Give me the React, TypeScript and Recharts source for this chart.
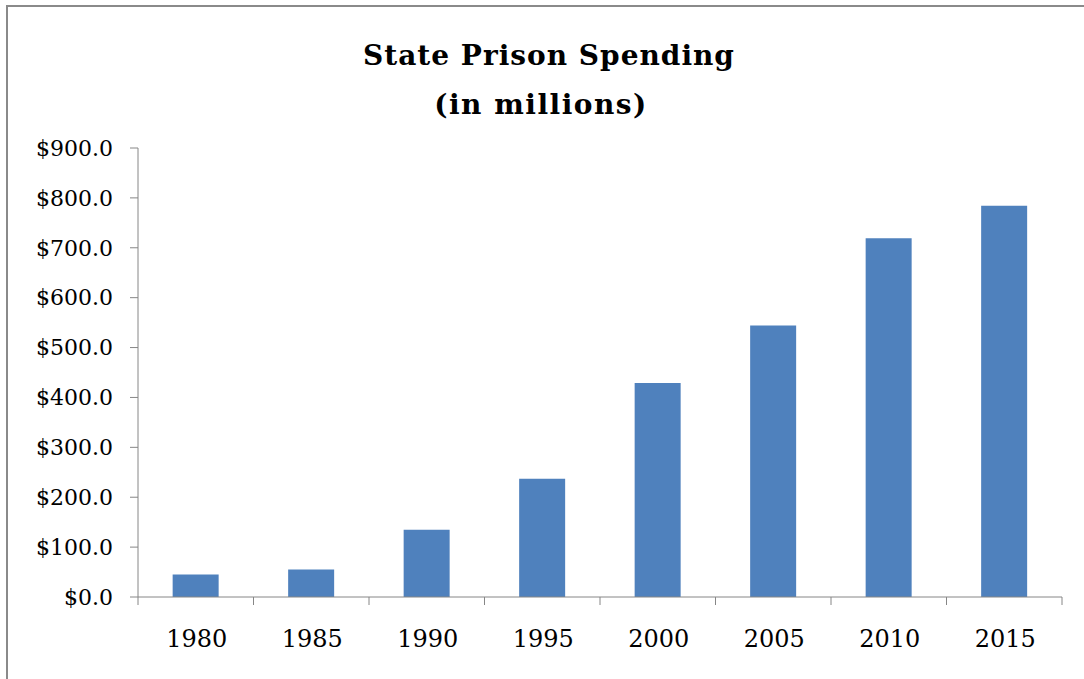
import { BarChart, Bar, XAxis, YAxis } from 'recharts';

const years = ['1980', '1985', '1990', '1995', '2000', '2005', '2010', '2015'];
const spending = [45, 55, 135, 237, 429, 544, 719, 784];
const yTicks = [0, 100, 200, 300, 400, 500, 600, 700, 800, 900];
const titleLines = ['State Prison Spending', '(in millions)'];

const data = years.map((year, i) => ({ year, spending: spending[i] }));

const AXIS = '#868686';
const FONT = "'DejaVu Serif', 'Liberation Serif', serif";

// category label plus Excel-style tick marks on the category boundaries
function YearTick(props: any) {
  const { x, y, payload, index, visibleTicksCount } = props;
  const half = payload.offset ?? 0;
  const last = index === visibleTicksCount - 1;
  return (
    <g>
      <line x1={x - half} x2={x - half} y1={y} y2={y + 8} stroke={AXIS} />
      {last && <line x1={x + half} x2={x + half} y1={y} y2={y + 8} stroke={AXIS} />}
      <text x={x + 1} y={y + 50} textAnchor="middle" fontFamily={FONT} fontSize={24} fill="#000">
        {payload.value}
      </text>
    </g>
  );
}

export default function App() {
  return (
    <div style={{ position: 'absolute', left: 0, top: 0, width: 1084, height: 679, background: '#fff', overflow: 'hidden' }}>
      <div
        style={{
          position: 'absolute',
          left: 6,
          top: 5,
          width: 1100,
          height: 700,
          borderLeft: '2px solid #8a8a8a',
          borderTop: '2px solid #8a8a8a',
        }}
      />
      <svg width={1084} height={140} style={{ position: 'absolute', left: 0, top: 0 }}>
        <text x={549} y={65} textAnchor="middle" fontFamily={FONT} fontWeight="bold" fontSize={28} letterSpacing={1} fill="#000">
          {titleLines[0]}
        </text>
        <text x={541} y={114} textAnchor="middle" fontFamily={FONT} fontWeight="bold" fontSize={28} letterSpacing={1.5} fill="#000">
          {titleLines[1]}
        </text>
      </svg>
      <div style={{ position: 'absolute', left: 0, top: 0 }}>
        <BarChart
          width={1084}
          height={679}
          data={data}
          margin={{ top: 148, right: 22, bottom: 81, left: 0 }}
          barCategoryGap="30%"
        >
          <XAxis
            dataKey="year"
            axisLine={{ stroke: AXIS }}
            tickLine={false}
            tickSize={0}
            tickMargin={0}
            height={1}
            interval={0}
            tick={<YearTick />}
          />
          <YAxis
            width={138}
            domain={[0, 900]}
            ticks={yTicks}
            interval={0}
            axisLine={{ stroke: AXIS }}
            tickLine={{ stroke: AXIS }}
            tickSize={8}
            tickMargin={17}
            tick={{ fill: '#000', fontSize: 22, fontFamily: FONT }}
            tickFormatter={(v: number) => `$${v.toFixed(1)}`}
          />
          <Bar dataKey="spending" fill="#4f81bd" isAnimationActive={false} />
        </BarChart>
      </div>
    </div>
  );
}
